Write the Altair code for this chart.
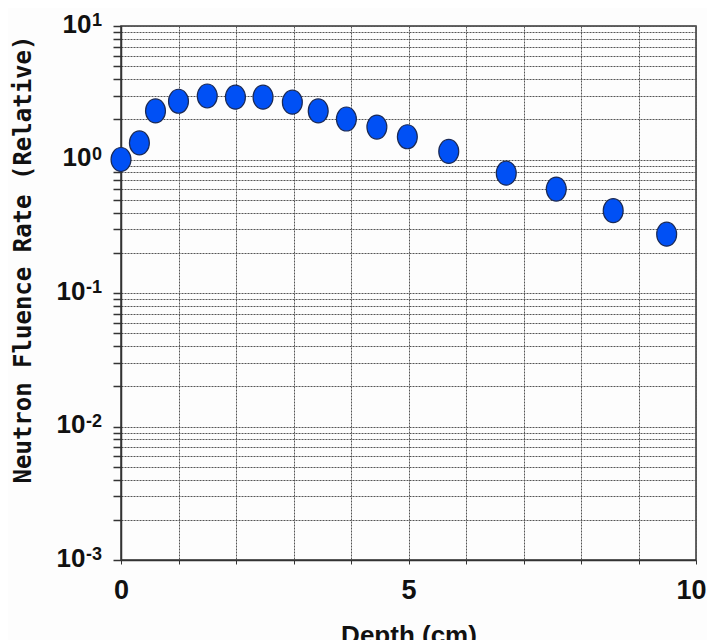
import altair as alt
import pandas as pd

# Data
depth = [0.0, 0.32, 0.60, 1.0, 1.5, 1.99, 2.47, 2.98, 3.43, 3.92, 4.45, 4.98, 5.70, 6.70, 7.57, 8.56, 9.49]
fluence = [1.00, 1.33, 2.31, 2.73, 2.99, 2.93, 2.93, 2.69, 2.31, 2.01, 1.75, 1.48, 1.15, 0.79, 0.60, 0.414, 0.276]

decades = [10, 1, 0.1, 0.01, 0.001]
exponents = ["1", "0", "-1", "-2", "-3"]
x_ticks = list(range(0, 11))
y_grid = sorted(set([round(k * 10 ** e, 6) for e in range(-3, 1) for k in range(1, 10)] + [10]))

pts = pd.DataFrame({"depth": depth, "fluence": fluence})
exp_df = pd.DataFrame({"val": decades, "exp": exponents})

ellipse = "M-0.83,0A0.83,1,0,1,1,0.83,0A0.83,1,0,1,1,-0.83,0Z"

xscale = alt.Scale(domain=[0, 10], nice=False, zero=False)
yscale = alt.Scale(type="log", domain=[0.001, 10], nice=False)

is_decade = "abs(log(datum.value)/LN10 - round(log(datum.value)/LN10)) < 0.001"

points = alt.Chart(pts).mark_point(
    shape=ellipse, size=576, filled=True, fill="#0050F5", fillOpacity=1,
    stroke="#1b2a55", strokeWidth=1.2, opacity=1
).encode(
    x=alt.X("depth:Q", scale=xscale, axis=alt.Axis(
        values=x_ticks, grid=True, gridColor="#555", gridDash=[2, 1], gridWidth=1,
        tickSize=4, tickColor="#333", domainColor="#333", domainWidth=1.5,
        labelExpr="datum.value % 5 == 0 ? datum.label : ''",
        labelFont="Liberation Sans", labelFontWeight="bold", labelFontSize=27,
        labelColor="#111", labelPadding=13, labelFlush=False, labelOverlap=False,
        labelOffset={"condition": {"test": "datum.value == 10", "value": -5}, "value": 0},
        title="Depth (cm)", titleFont="Liberation Sans", titleFontWeight="bold",
        titleFontSize=26, titleColor="#111", titlePadding=19,
    )),
    y=alt.Y("fluence:Q", scale=yscale, axis=alt.Axis(
        values=y_grid, grid=True, gridColor="#555", gridDash=[2, 1], gridWidth=1,
        tickSize=8, tickColor="#333", tickWidth=1.5, domainColor="#333", domainWidth=1.5,
        labelExpr=is_decade + " ? '10' : ''",
        labelFont="Liberation Sans", labelFontWeight="bold", labelFontSize=26,
        labelColor="#111",
        labelPadding={"condition": {"test": "datum.value < 0.5", "value": 28}, "value": 22},
        labelBaseline="middle", labelOffset=-2, labelOverlap=False, labelFlush=False,
        labelBound=False,
        title="Neutron Fluence Rate (Relative)", titleFont="DejaVu Sans Mono",
        titleFontWeight="bold", titleFontSize=24, titleColor="#111",
        titleAngle=-90, titleX=-98, titleY=233, titleAlign="center", titleBaseline="middle",
    )),
)

exps = alt.Chart(exp_df).mark_text(
    align="right", baseline="top", dy=-14, font="Liberation Sans",
    fontWeight="bold", fontSize=18, color="#111"
).encode(
    x=alt.value(-19),
    y=alt.Y("val:Q", scale=yscale),
    text="exp:N",
)

chart = alt.layer(exps, points).properties(
    width=575, height=534,
    autosize=alt.AutoSizeParams(type="none"),
    padding={"left": 113, "top": 18, "right": 11, "bottom": 80},
    background="#fdfdfd",
).configure_view(stroke="#333", strokeWidth=1.5)

chart.save("out.html", embed_options={"renderer": "svg", "actions": False})
